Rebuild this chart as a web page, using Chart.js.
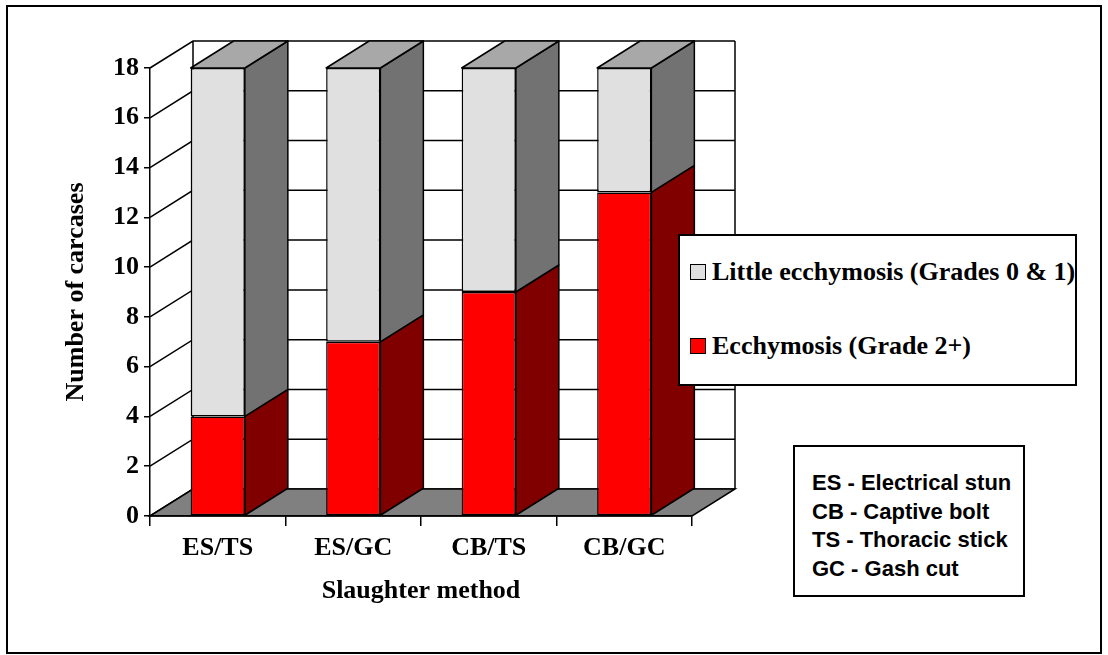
<!DOCTYPE html>
<html>
<head>
<meta charset="utf-8">
<script src="https://cdn.jsdelivr.net/npm/chart.js@4/dist/chart.umd.min.js"></script>
<style>
  body{margin:0;background:#fff;}
  #wrap{position:relative;width:1108px;height:655px;overflow:hidden;}
  #frame{position:absolute;left:6px;top:5px;width:1096px;height:649px;border:2px solid #000;box-sizing:border-box;}
  #chart{position:absolute;left:0;top:0;}
  .box{position:absolute;background:#fff;border:2px solid #000;box-sizing:border-box;}
  #legend{left:678px;top:234px;width:399px;height:152px;font:bold 26px "Liberation Serif","Times New Roman",serif;}
  .item{position:absolute;left:10px;height:28px;display:flex;align-items:center;white-space:nowrap;}
  .sw{width:16px;height:16px;border:1px solid #000;box-sizing:border-box;margin-right:6px;}
  #abbr{left:793px;top:445px;width:232px;height:152px;padding:22px 0 0 17px;font:bold 22px "Liberation Sans",Arial,sans-serif;line-height:28.5px;white-space:nowrap;}
</style>
</head>
<body>
<div id="wrap">
  <div id="frame"></div>
  <canvas id="chart" width="1108" height="655"></canvas>
  <div id="legend" class="box"></div>
  <div id="abbr" class="box"></div>
</div>
<script>
// data
const categories = ["ES/TS", "ES/GC", "CB/TS", "CB/GC"];
const ecchymosis = [4, 7, 9, 13];          // Grade 2+
const littleEcchymosis = [14, 11, 9, 5];   // Grades 0 & 1
const yMin = 0, yMax = 18, yStep = 2;
const abbreviations = ["ES - Electrical stun", "CB - Captive bolt", "TS - Thoracic stick", "GC - Gash cut"];

const serif = "'Liberation Serif', 'Times New Roman', serif";
const depth = {dx: 43, dy: -27};

// fake 3d: back wall, side wall, floor, then bar sides/tops
const box3d = {
  id: "box3d",
  beforeDraw(chart){
    const {ctx, chartArea: a, scales: {y}} = chart;
    const {dx, dy} = depth;
    ctx.save();
    ctx.lineWidth = 1.5;
    ctx.strokeStyle = "#000";
    ctx.beginPath();
    y.ticks.forEach(t => {
      const py = y.getPixelForValue(t.value);
      ctx.moveTo(a.left, py);
      ctx.lineTo(a.left + dx, py + dy);
      ctx.lineTo(a.right + dx, py + dy);
    });
    ctx.moveTo(a.left + dx, a.top + dy); ctx.lineTo(a.left + dx, a.bottom + dy);
    ctx.moveTo(a.right + dx, a.top + dy); ctx.lineTo(a.right + dx, a.bottom + dy);
    ctx.stroke();
    ctx.beginPath();
    ctx.moveTo(a.left, a.bottom);
    ctx.lineTo(a.right, a.bottom);
    ctx.lineTo(a.right + dx, a.bottom + dy);
    ctx.lineTo(a.left + dx, a.bottom + dy);
    ctx.closePath();
    ctx.fillStyle = "#808080";
    ctx.fill();
    ctx.stroke();
    ctx.restore();
  },
  afterDatasetsDraw(chart){
    const {ctx} = chart;
    const {dx, dy} = depth;
    const last = chart.data.datasets.length - 1;
    ctx.save();
    ctx.lineWidth = 1.5;
    ctx.strokeStyle = "#000";
    ctx.lineJoin = "round";
    chart.data.datasets.forEach((ds, i) => {
      chart.getDatasetMeta(i).data.forEach(bar => {
        const {x, y, base, width} = bar.getProps(["x", "y", "base", "width"], true);
        const l = x - width / 2, r = x + width / 2;
        ctx.beginPath();
        ctx.moveTo(r, y); ctx.lineTo(r + dx, y + dy);
        ctx.lineTo(r + dx, base + dy); ctx.lineTo(r, base);
        ctx.closePath();
        ctx.fillStyle = ds.sideColor;
        ctx.fill(); ctx.stroke();
        if(i === last){
          ctx.beginPath();
          ctx.moveTo(l, y); ctx.lineTo(l + dx, y + dy);
          ctx.lineTo(r + dx, y + dy); ctx.lineTo(r, y);
          ctx.closePath();
          ctx.fillStyle = ds.topColor;
          ctx.fill(); ctx.stroke();
        }
      });
    });
    ctx.restore();
  }
};

const datasets = [
  {label: "Ecchymosis (Grade 2+)", data: ecchymosis, backgroundColor: "#ff0000", sideColor: "#800000", topColor: "#c00000"},
  {label: "Little ecchymosis (Grades 0 & 1)", data: littleEcchymosis, backgroundColor: "#e0e0e0", sideColor: "#727272", topColor: "#a8a8a8"}
];
datasets.forEach(d => {
  d.borderColor = "#000";
  d.borderWidth = 1.5;
  d.borderSkipped = false;
  d.barPercentage = 0.4;
  d.categoryPercentage = 1;
});

new Chart(document.getElementById("chart").getContext("2d"), {
  type: "bar",
  data: {labels: categories, datasets: datasets},
  options: {
    responsive: false,
    animation: false,
    devicePixelRatio: 1,
    layout: {padding: {left: 0, right: 416, top: 68, bottom: 48}},
    plugins: {legend: {display: false}, tooltip: {enabled: false}},
    scales: {
      x: {
        stacked: true,
        afterFit: s => { s.height = 91; },
        grid: {offset: true, drawOnChartArea: false, tickLength: 10, color: "#000", lineWidth: 1.5},
        border: {display: true, color: "#000", width: 1.5},
        ticks: {color: "#000", padding: 7, font: {family: serif, size: 26, weight: "bold"}},
        title: {display: true, text: "Slaughter method", color: "#000", padding: {top: 0, bottom: 0},
          font: {family: serif, size: 26, weight: "bold"}}
      },
      y: {
        stacked: true,
        min: yMin, max: yMax,
        afterFit: s => { s.width = 150; },
        grid: {drawOnChartArea: false, tickLength: 6, color: "#000", lineWidth: 1.5},
        border: {display: true, color: "#000", width: 1.5},
        ticks: {stepSize: yStep, color: "#000", padding: 5, font: {family: serif, size: 26, weight: "bold"}},
        title: {display: true, text: "Number of carcases", color: "#000", padding: {top: 61, bottom: 0},
          font: {family: serif, size: 26, weight: "bold"}}
      }
    }
  },
  plugins: [box3d]
});

// legend box (top series first, like the original)
const legend = document.getElementById("legend");
datasets.slice().reverse().forEach((d, i) => {
  const item = document.createElement("div");
  item.className = "item";
  item.style.top = (i === 0 ? 22 : 96) + "px";
  const sw = document.createElement("span");
  sw.className = "sw";
  sw.style.background = d.backgroundColor;
  item.appendChild(sw);
  item.appendChild(document.createTextNode(d.label));
  legend.appendChild(item);
});

document.getElementById("abbr").innerHTML = abbreviations.join("<br>");
</script>
</body>
</html>
